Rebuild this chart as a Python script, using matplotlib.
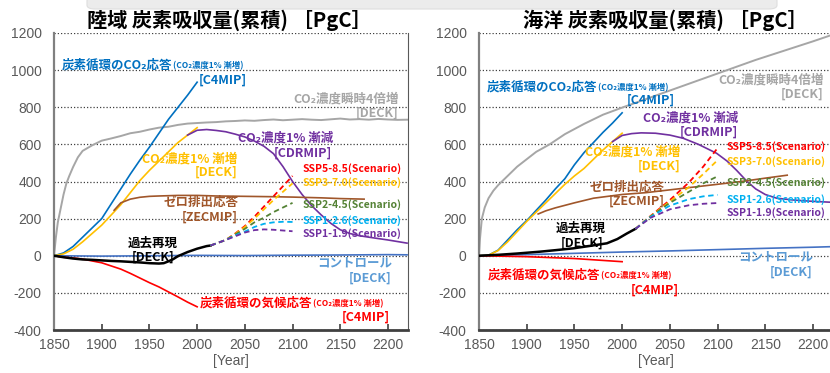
import matplotlib
matplotlib.use("Agg")
import matplotlib.pyplot as plt
from matplotlib.patches import FancyBboxPatch

plt.rcParams['font.family'] = ['Noto Sans CJK JP', 'DejaVu Sans']
plt.rcParams['axes.unicode_minus'] = False

# ---------------- Land carbon uptake (cumulative, PgC) ----------------
land_4x_years = [1850, 1852, 1854, 1856, 1860, 1863, 1866, 1870, 1875, 1880, 1890, 1900,
                 1910, 1920, 1930, 1940, 1950, 1960, 1970, 1980, 1990, 2000, 2010, 2020,
                 2030, 2040, 2050, 2060, 2070, 2080, 2090, 2100, 2110, 2120, 2130, 2140,
                 2150, 2160, 2170, 2180, 2190, 2200, 2210, 2220]
land_4x = [0, 100, 180, 230, 330, 390, 430, 478, 530, 565, 595, 620,
           632, 645, 660, 668, 680, 690, 695, 705, 712, 715, 718, 720,
           724, 726, 729, 727, 731, 734, 730, 733, 736, 733, 731, 735,
           739, 734, 736, 733, 737, 734, 732, 733]

land_c4mip_years = [1850, 1860, 1870, 1880, 1890, 1900, 1910, 1920, 1930, 1940, 1950,
                    1960, 1970, 1980, 1990, 2000]
land_c4mip = [0, 15, 50, 100, 150, 200, 280, 360, 440, 515, 585, 660, 735, 800, 865, 935]

land_1pct_years = [1850, 1860, 1870, 1880, 1890, 1900, 1910, 1920, 1930, 1940, 1950,
                   1960, 1970, 1980, 1990, 2000]
land_1pct = [0, 10, 35, 75, 120, 165, 220, 275, 340, 405, 460, 510, 560, 610, 650, 690]

land_cdr_years = [1990, 2000, 2010, 2020, 2030, 2040, 2050, 2060, 2070, 2080, 2090,
                  2100, 2110, 2120, 2130, 2140, 2150, 2160, 2170, 2180, 2200, 2220]
land_cdr = [650, 676, 680, 675, 668, 655, 640, 618, 590, 550, 480,
            400, 330, 270, 220, 175, 140, 120, 108, 100, 85, 68]

land_zec_years = [1913, 1920, 1930, 1940, 1950, 1960, 1980, 2000, 2020, 2050, 2080,
                  2100, 2130, 2150, 2175]
land_zec = [245, 285, 305, 315, 320, 322, 325, 325, 322, 320, 318, 316, 312, 308, 305]

land_hist_years = [1850, 1860, 1870, 1880, 1890, 1900, 1910, 1920, 1930, 1940, 1950,
                   1960, 1965, 1970, 1975, 1980, 1990, 2000, 2010, 2014]
land_hist = [0, -8, -15, -20, -22, -25, -28, -30, -33, -36, -40,
             -42, -40, -30, -18, -2, 20, 38, 52, 55]

land_ctrl_years = [1850, 1900, 1950, 2000, 2050, 2100, 2150, 2200, 2220]
land_ctrl = [0, -2, 0, 2, 1, 3, 4, 6, 5]

land_c4mip_clim_years = [1850, 1860, 1870, 1880, 1890, 1900, 1910, 1920, 1930, 1940,
                         1950, 1960, 1970, 1980, 1990, 2000]
land_c4mip_clim = [0, -8, -12, -18, -28, -38, -55, -72, -95, -120,
                   -145, -168, -195, -222, -250, -275]

scen_years = [2014, 2030, 2040, 2050, 2060, 2070, 2080, 2090, 2100]
land_ssp585 = [55, 85, 120, 160, 210, 265, 320, 375, 430]
land_ssp370 = [55, 85, 118, 155, 200, 250, 300, 345, 390]
land_ssp245 = [55, 85, 115, 145, 180, 205, 235, 260, 285]
land_ssp126 = [55, 85, 110, 130, 155, 172, 180, 183, 182]
land_ssp119 = [55, 85, 105, 125, 138, 142, 140, 136, 132]

# ---------------- Ocean carbon uptake (cumulative, PgC) ----------------
ocean_4x_years = [1850, 1851, 1853, 1856, 1860, 1865, 1870, 1874, 1880, 1890, 1900,
                  1910, 1924, 1940, 1960, 1980, 2001, 2020, 2050, 2080, 2110, 2140,
                  2170, 2200, 2220]
ocean_4x = [0, 90, 200, 260, 310, 350, 380, 400, 430, 480, 520,
            560, 600, 655, 710, 760, 800, 835, 890, 945, 1000, 1055,
            1105, 1155, 1190]

ocean_c4mip_years = [1850, 1860, 1870, 1880, 1890, 1902, 1910, 1920, 1930, 1940, 1950,
                     1960, 1970, 1980, 1990, 2000]
ocean_c4mip = [0, 3, 30, 85, 140, 200, 245, 300, 360, 415, 490, 555, 610, 665, 715, 770]

ocean_1pct_years = [1850, 1860, 1870, 1880, 1890, 1900, 1910, 1920, 1930, 1940, 1950,
                    1960, 1970, 1980, 1990, 2000]
ocean_1pct = [0, 3, 28, 75, 130, 185, 235, 285, 335, 385, 430, 470, 520, 570, 615, 660]

ocean_cdr_years = [1990, 2000, 2010, 2020, 2035, 2050, 2064, 2080, 2099, 2110, 2120,
                   2131, 2140, 2150, 2162, 2180, 2200, 2220]
ocean_cdr = [615, 648, 658, 662, 660, 650, 633, 600, 552, 510, 460,
             400, 360, 330, 310, 300, 293, 288]

ocean_zec_years = [1912, 1920, 1930, 1950, 1970, 2000, 2025, 2050, 2075, 2100, 2125,
                   2150, 2173]
ocean_zec = [225, 242, 258, 285, 310, 330, 340, 355, 370, 385, 400, 418, 434]

ocean_hist_years = [1850, 1870, 1890, 1914, 1930, 1949, 1965, 1984, 1995, 2005, 2014]
ocean_hist = [0, 5, 12, 22, 30, 40, 52, 67, 90, 120, 145]

ocean_ctrl_years = [1850, 1900, 1950, 2000, 2050, 2100, 2150, 2200, 2220]
ocean_ctrl = [0, 6, 13, 20, 26, 33, 40, 46, 49]

ocean_c4mip_clim_years = [1850, 1900, 1950, 2000]
ocean_c4mip_clim = [0, -5, -15, -32]

ocean_ssp_years = [2014, 2030, 2050, 2070, 2085, 2100]
ocean_ssp585 = [145, 215, 300, 395, 480, 580]
ocean_ssp370 = [145, 213, 292, 370, 440, 515]
ocean_ssp245 = [145, 212, 285, 345, 390, 428]
ocean_ssp126 = [145, 210, 270, 305, 320, 328]
ocean_ssp119 = [145, 205, 250, 272, 280, 284]

x_ticks = [1850, 1900, 1950, 2000, 2050, 2100, 2150, 2200]
y_ticks = [-400, -200, 0, 200, 400, 600, 800, 1000, 1200]

C_BLUE = '#0070C0'
C_GRAY = '#A6A6A6'
C_YEL = '#FFC000'
C_PUR = '#7030A0'
C_BRN = '#A0562A'
C_RED = '#FF0000'
C_GRN = '#548235'
C_CYAN = '#00B0F0'
C_CTRL = '#4472C4'
C_CTRL_TXT = '#5B9BD5'
C_TICK = '#595959'

fig = plt.figure(figsize=(8.3, 3.73), dpi=100)

# faint shadow strip along the top edge
shadow = FancyBboxPatch((87 / 830, 1 - 9 / 373), 690 / 830, 12 / 373,
                        boxstyle="round,pad=0,rounding_size=0.01",
                        transform=fig.transFigure, facecolor='#ececec',
                        edgecolor='#dedede', lw=0.8, zorder=0)
fig.patches.append(shadow)

ax_l = fig.add_axes([54 / 830, 43 / 373, 354 / 830, 297 / 373])
ax_r = fig.add_axes([479 / 830, 43 / 373, 354 / 830, 297 / 373])


def style_axes(ax, right_spine=True):
    ax.set_xlim(1850, 2221)
    ax.set_ylim(-400, 1200)
    ax.set_xticks(x_ticks)
    ax.set_yticks(y_ticks)
    ax.yaxis.grid(True, linestyle=(0, (1, 1.6)), color='#404040', lw=0.9)
    ax.set_axisbelow(True)
    ax.spines['top'].set_visible(False)
    ax.spines['left'].set_color('#808080')
    ax.spines['left'].set_linewidth(1.6)
    ax.spines['bottom'].set_color('#404040')
    ax.spines['bottom'].set_linewidth(2.0)
    ax.spines['right'].set_visible(right_spine)
    ax.spines['right'].set_color('#595959')
    ax.spines['right'].set_linewidth(0.8)
    ax.tick_params(axis='x', direction='in', length=4, width=1.2, color='#404040',
                   labelcolor=C_TICK, labelsize=10, pad=6)
    ax.tick_params(axis='y', length=0, labelcolor=C_TICK, labelsize=10, pad=9)
    for lab in ax.get_xticklabels() + ax.get_yticklabels():
        lab.set_fontfamily(['Liberation Sans', 'DejaVu Sans'])
    ax.set_xlabel('[Year]', color=C_TICK, fontsize=10, labelpad=1,
                  fontfamily=['Liberation Sans', 'DejaVu Sans'])


style_axes(ax_l, True)
style_axes(ax_r, False)

LW = 1.2


def draw_panel(ax, d):
    ax.plot(d['x4'], d['y4'], color=C_GRAY, lw=1.4, zorder=2)
    ax.plot(d['xc'], d['yc'], color=C_BLUE, lw=LW, zorder=3)
    ax.plot(d['xp'], d['yp'], color=C_YEL, lw=LW, zorder=3)
    ax.plot(d['xd'], d['yd'], color=C_PUR, lw=LW, zorder=3)
    ax.plot(d['xz'], d['yz'], color=C_BRN, lw=LW, zorder=3)
    ax.plot(d['xk'], d['yk'], color=C_CTRL, lw=LW, zorder=3)
    ax.plot(d['xr'], d['yr'], color=C_RED, lw=LW, zorder=3)
    ax.plot(d['xh'], d['yh'], color='black', lw=1.8, zorder=4)
    for ys, c in zip(d['ssp'], [C_RED, C_YEL, C_GRN, C_CYAN, C_PUR]):
        ax.plot(d['xs'], ys, color=c, lw=1.3, ls=(0, (3, 2)), zorder=5)


draw_panel(ax_l, dict(x4=land_4x_years, y4=land_4x, xc=land_c4mip_years, yc=land_c4mip,
                      xp=land_1pct_years, yp=land_1pct, xd=land_cdr_years, yd=land_cdr,
                      xz=land_zec_years, yz=land_zec, xk=land_ctrl_years, yk=land_ctrl,
                      xr=land_c4mip_clim_years, yr=land_c4mip_clim,
                      xh=land_hist_years, yh=land_hist, xs=scen_years,
                      ssp=[land_ssp585, land_ssp370, land_ssp245, land_ssp126, land_ssp119]))
draw_panel(ax_r, dict(x4=ocean_4x_years, y4=ocean_4x, xc=ocean_c4mip_years, yc=ocean_c4mip,
                      xp=ocean_1pct_years, yp=ocean_1pct, xd=ocean_cdr_years, yd=ocean_cdr,
                      xz=ocean_zec_years, yz=ocean_zec, xk=ocean_ctrl_years, yk=ocean_ctrl,
                      xr=ocean_c4mip_clim_years, yr=ocean_c4mip_clim,
                      xh=ocean_hist_years, yh=ocean_hist, xs=ocean_ssp_years,
                      ssp=[ocean_ssp585, ocean_ssp370, ocean_ssp245, ocean_ssp126,
                           ocean_ssp119]))

FS = 9
FS_SSP = 7.5


def label(ax, x, y, s, color, ha='left', size=FS, small=None):
    t = ax.text(x, y, s, color=color, ha=ha, va='center', fontsize=size,
                fontweight='bold', zorder=6)
    if small:
        ax.annotate(small, xy=(1, 0.12), xycoords=t, xytext=(0.5, 0),
                    textcoords='offset points', fontsize=6, fontweight='bold',
                    color=color, ha='left', va='bottom', zorder=6)
    return t


SMALL = '(CO₂濃度1% 漸増)'

# land annotations
label(ax_l, 1858, 1027, '炭素循環のCO₂応答', C_BLUE, small=SMALL)
label(ax_l, 2027, 947, '[C4MIP]', C_BLUE, ha='center')
label(ax_l, 2211, 844, 'CO₂濃度瞬時4倍増', C_GRAY, ha='right')
label(ax_l, 2211, 768, '[DECK]', C_GRAY, ha='right')
label(ax_l, 2093, 634, 'CO₂濃度1% 漸減', C_PUR, ha='center')
label(ax_l, 2141, 553, '[CDRMIP]', C_PUR, ha='right')
label(ax_l, 2042, 521, 'CO₂濃度1% 漸増', C_YEL, ha='right')
label(ax_l, 2042, 451, '[DECK]', C_YEL, ha='right')
label(ax_l, 2043, 289, 'ゼロ排出応答', C_BRN, ha='right')
label(ax_l, 2043, 208, '[ZECMIP]', C_BRN, ha='right')
label(ax_l, 1953, 68, '過去再現', 'black', ha='center')
label(ax_l, 1954, -7, '[DECK]', 'black', ha='center')
label(ax_l, 2204, -39, 'コントロール', C_CTRL_TXT, ha='right')
label(ax_l, 2204, -120, '[DECK]', C_CTRL_TXT, ha='right')
label(ax_l, 2003, -255, '炭素循環の気候応答', C_RED, small=SMALL)
label(ax_l, 2202, -330, '[C4MIP]', C_RED, ha='right')
for yv, s, c in [(472, 'SSP5-8.5(Scenario)', C_RED), (392, 'SSP3-7.0(Scenario)', C_YEL),
                 (273, 'SSP2-4.5(Scenario)', C_GRN), (192, 'SSP1-2.6(Scenario)', C_CYAN),
                 (122, 'SSP1-1.9(Scenario)', C_PUR)]:
    label(ax_l, 2111, yv, s, c, size=FS_SSP)

# ocean annotations
label(ax_r, 1858, 909, '炭素循環のCO₂応答', C_BLUE, small=SMALL)
label(ax_r, 2055, 839, '[C4MIP]', C_BLUE, ha='right')
label(ax_r, 2211, 947, 'CO₂濃度瞬時4倍増', C_GRAY, ha='right')
label(ax_r, 2211, 871, '[DECK]', C_GRAY, ha='right')
label(ax_r, 2022, 742, 'CO₂濃度1% 漸減', C_PUR)
label(ax_r, 2121, 667, '[CDRMIP]', C_PUR, ha='right')
label(ax_r, 2061, 559, 'CO₂濃度1% 漸増', C_YEL, ha='right')
label(ax_r, 2061, 483, '[DECK]', C_YEL, ha='right')
label(ax_r, 2045, 370, 'ゼロ排出応答', C_BRN, ha='right')
label(ax_r, 2045, 295, '[ZECMIP]', C_BRN, ha='right')
label(ax_r, 1957, 149, '過去再現', 'black', ha='center')
label(ax_r, 1958, 68, '[DECK]', 'black', ha='center')
label(ax_r, 2200, -7, 'コントロール', C_CTRL_TXT, ha='right')
label(ax_r, 2200, -88, '[DECK]', C_CTRL_TXT, ha='right')
label(ax_r, 1859, -104, '炭素循環の気候応答', C_RED, small=SMALL)
label(ax_r, 2059, -185, '[C4MIP]', C_RED, ha='right')
for yv, s, c in [(586, 'SSP5-8.5(Scenario)', C_RED), (505, 'SSP3-7.0(Scenario)', C_YEL),
                 (392, 'SSP2-4.5(Scenario)', C_GRN), (300, 'SSP1-2.6(Scenario)', C_CYAN),
                 (235, 'SSP1-1.9(Scenario)', C_PUR)]:
    label(ax_r, 2109, yv, s, c, size=FS_SSP)

fig.text(229 / 830, 1 - 20 / 373, '陸域 炭素吸収量(累積) ［PgC］', ha='center',
         va='center', fontsize=14.5, fontweight='bold')
fig.text(665 / 830, 1 - 20 / 373, '海洋 炭素吸収量(累積) ［PgC］', ha='center',
         va='center', fontsize=14.5, fontweight='bold')

fig.savefig('out.png', dpi=100)
